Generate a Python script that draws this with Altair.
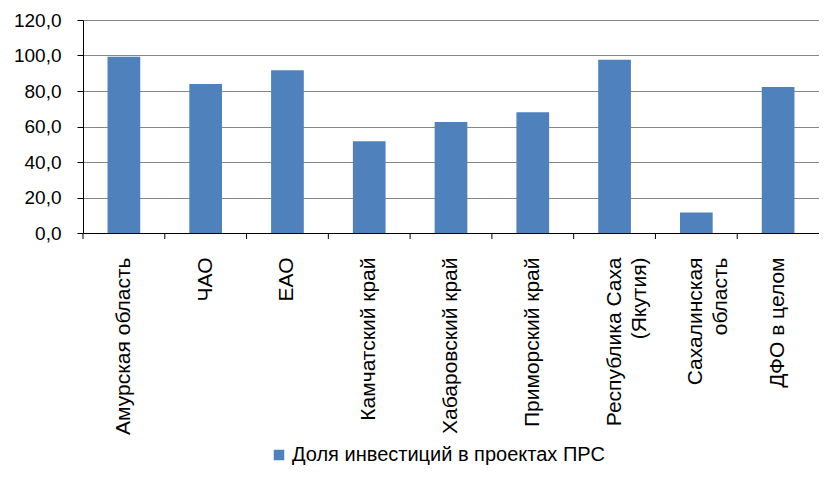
import altair as alt
import pandas as pd

categories = ["Амурская область", "ЧАО", "ЕАО", "Камчатский край", "Хабаровский край",
              "Приморский край", "Республика Саха\n(Якутия)", "Сахалинская\nобласть", "ДФО в целом"]
values = [99.3, 83.9, 91.7, 51.7, 62.5, 68.0, 97.6, 11.6, 82.3]
series_name = "Доля инвестиций в проектах ПРС"
y_ticks = [0, 20, 40, 60, 80, 100, 120]

df = pd.DataFrame({"cat": categories, "val": values, "series": [series_name] * len(values)})

FONT = "Liberation Sans"
W, H = 736, 213

xscale = alt.Scale(paddingInner=0, paddingOuter=0)

bars = alt.Chart(df).mark_bar(width=alt.RelativeBandSize(0.4), color="#4F81BD").encode(
    x=alt.X("cat:N", sort=categories, scale=xscale,
            axis=alt.Axis(title=None, labelAngle=-90, ticks=False, domain=True, domainColor="#000000",
                          labelFontSize=21, labelFont=FONT, labelColor="#000000", labelPadding=24,
                          labelLineHeight=25, labelLimit=0,
                          labelExpr="split(datum.label, '\\n')", grid=False)),
    y=alt.Y("val:Q", scale=alt.Scale(domain=[0, 120], nice=False),
            axis=alt.Axis(title=None, values=y_ticks, grid=True, gridColor="#868686", gridWidth=1,
                          domainColor="#000000", tickColor="#000000", tickSize=6,
                          labelFontSize=19, labelFont=FONT, labelColor="#000000", labelPadding=16,
                          labelExpr="replace(format(datum.value, '.1f'), '.', ',')")),
    color=alt.Color("series:N", scale=alt.Scale(range=["#4F81BD"]),
                    legend=alt.Legend(title=None, orient="none", legendX=186, legendY=425,
                                      symbolType="square", symbolSize=110, symbolStrokeWidth=0,
                                      labelFontSize=20, labelFont=FONT, labelColor="#000000",
                                      labelOffset=3, labelLimit=0)),
)

ticks = alt.Chart(df).mark_rule(color="#000000", strokeWidth=1).encode(
    x=alt.X("cat:N", sort=categories, scale=xscale, bandPosition=0),
    y=alt.value(H),
    y2=alt.value(H + 6),
)

chart = alt.layer(bars, ticks).properties(
    width=W, height=H,
    autosize=alt.AutoSizeParams(type="none"),
    padding={"left": 75, "top": 12, "right": 0, "bottom": 237},
).configure_view(stroke=None).configure_axis(domainWidth=1)

chart.save("out.html", embed_options={"renderer": "svg", "actions": False})
